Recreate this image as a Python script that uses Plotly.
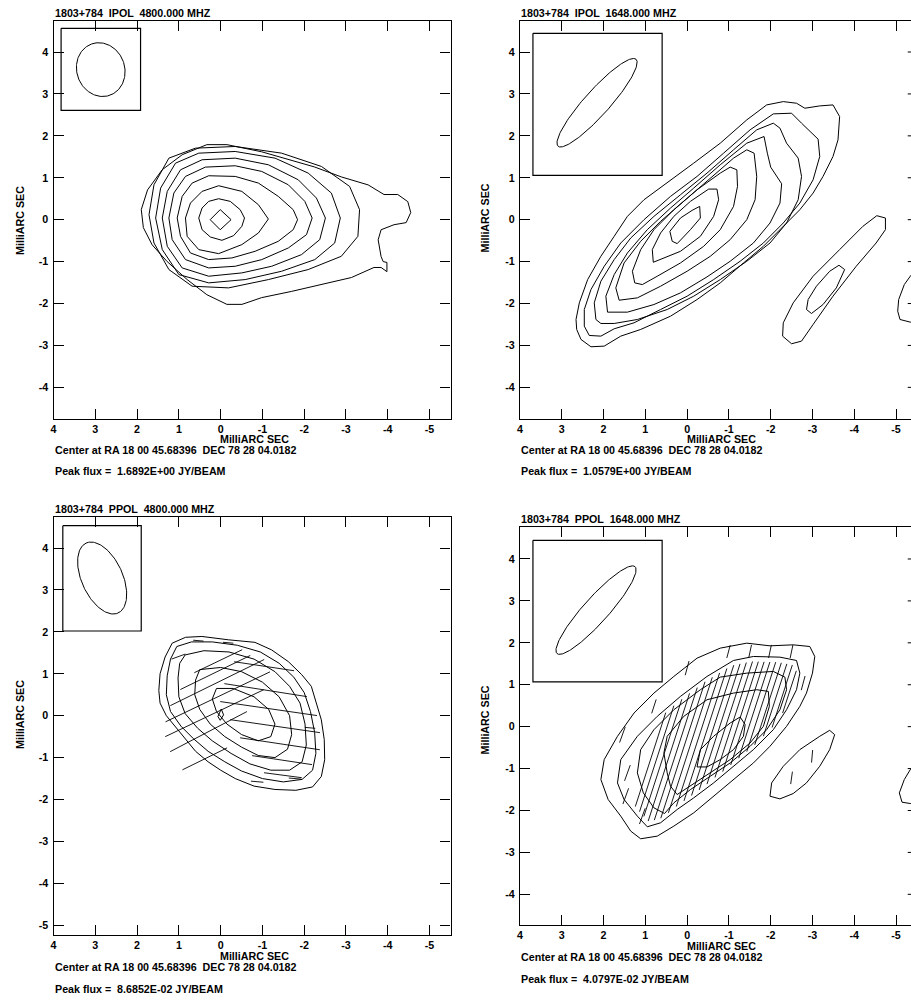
import numpy as np
import plotly.graph_objects as go

W, H = 911, 1006
FONT = "Liberation Sans, Arial, Helvetica, sans-serif"
FS = 10.7

# ---------------- text / ticks ----------------
x_tick_vals = [4, 3, 2, 1, 0, -1, -2, -3, -4, -5]
x_tick_text = ["4", "3", "2", "1", "0", "-1", "-2", "-3", "-4", "-5"]
y_tick_vals_a = [4, 3, 2, 1, 0, -1, -2, -3, -4]
y_tick_text_a = ["4", "3", "2", "1", "0", "-1", "-2", "-3", "-4"]
y_tick_vals_c = [4, 3, 2, 1, 0, -1, -2, -3, -4, -5]
y_tick_text_c = ["4", "3", "2", "1", "0", "-1", "-2", "-3", "-4", "-5"]

titles = ["1803+784  IPOL  4800.000 MHZ", "1803+784  IPOL  1648.000 MHZ",
          "1803+784  PPOL  4800.000 MHZ", "1803+784  PPOL  1648.000 MHZ"]
center_text = "Center at RA 18 00 45.68396  DEC 78 28 04.0182"
peak_flux = ["1.6892E+00", "1.0579E+00", "8.6852E-02", "4.0797E-02"]
axis_label = "MilliARC SEC"

# ---------------- beams (centre x, y, semi-major, semi-minor, PA deg) ----------------
beam_p1 = (2.87, 3.58, 0.65, 0.573, 20)
beam_p2 = (2.156, 2.79, 1.395, 0.30, -42)
beam_p3 = (2.836, 3.284, 0.918, 0.49, 24.7)
beam_p4 = (2.18, 2.78, 1.395, 0.30, -42)
# beam boxes (x_left, x_right, y_top, y_bottom)
box_p1 = (3.819, 1.917, 4.565, 2.609)
box_p2 = (3.69, 0.598, 4.446, 1.059)
box_p3 = (3.778, 1.901, 4.532, 2.02)
box_p4 = (3.69, 0.598, 4.446, 1.066)

# ---------------- contours, panel 1 (IPOL 4800) ----------------
p1_c1 = [(1.90, 0.24), (1.75, 0.71), (1.40, 1.19), (0.92, 1.55), (0.33, 1.79), (-0.15, 1.79),
         (-0.98, 1.62), (-1.63, 1.43), (-2.24, 1.26), (-2.89, 1.02), (-3.53, 0.83), (-3.91, 0.60),
         (-4.24, 0.60), (-4.48, 0.43), (-4.55, 0.17), (-4.44, -0.07), (-4.15, -0.12), (-3.84, -0.24),
         (-3.77, -0.48), (-3.84, -0.88), (-3.89, -1.00), (-3.98, -1.02), (-3.98, -1.24), (-3.84, -1.14),
         (-3.67, -1.14), (-3.13, -1.38), (-2.41, -1.55), (-1.70, -1.71), (-0.98, -1.86), (-0.51, -2.02),
         (-0.15, -2.02), (0.33, -1.79), (0.80, -1.43), (1.28, -1.00), (1.64, -0.60), (1.85, -0.19)]
p1_c2 = [(1.715, 0.119), (1.596, 0.833), (1.239, 1.468), (0.604, 1.706), (-0.349, 1.746), (-1.460, 1.587),
         (-2.412, 1.270), (-3.087, 0.794), (-3.325, 0.238), (-3.285, -0.397), (-2.888, -0.873),
         (-2.095, -1.190), (-1.142, -1.429), (-0.190, -1.627), (0.683, -1.587), (1.239, -1.190), (1.596, -0.556)]
p1_c3 = [(1.556, 0.040), (1.437, 0.754), (1.080, 1.349), (0.524, 1.587), (-0.349, 1.627), (-1.302, 1.468),
         (-2.095, 1.111), (-2.650, 0.635), (-2.864, 0.040), (-2.730, -0.556), (-2.254, -0.952),
         (-1.460, -1.230), (-0.587, -1.429), (0.286, -1.508), (1.001, -1.310), (1.397, -0.714)]
p1_c4 = [(1.397, 0.040), (1.278, 0.675), (0.961, 1.190), (0.445, 1.429), (-0.349, 1.468), (-1.142, 1.310),
         (-1.857, 0.952), (-2.293, 0.516), (-2.507, 0.040), (-2.372, -0.476), (-1.936, -0.833),
         (-1.222, -1.111), (-0.507, -1.270), (0.286, -1.349), (0.921, -1.151), (1.278, -0.635)]
p1_c5 = [(1.239, 0.040), (1.120, 0.635), (0.842, 1.032), (0.366, 1.254), (-0.349, 1.286), (-0.984, 1.151),
         (-1.619, 0.833), (-2.015, 0.437), (-2.190, 0.040), (-2.055, -0.357), (-1.619, -0.675),
         (-0.984, -0.952), (-0.349, -1.111), (0.286, -1.151), (0.842, -0.952), (1.160, -0.476)]
p1_c6 = [(1.040, 0.040), (0.921, 0.556), (0.683, 0.873), (0.286, 1.048), (-0.349, 1.032), (-0.904, 0.873),
         (-1.380, 0.556), (-1.737, 0.238), (-1.841, 0.000), (-1.737, -0.238), (-1.380, -0.516),
         (-0.825, -0.754), (-0.269, -0.913), (0.286, -0.952), (0.723, -0.794), (0.961, -0.397)]
p1_c7 = [(0.842, 0.040), (0.723, 0.397), (0.445, 0.675), (0.048, 0.810), (-0.507, 0.675), (-0.904, 0.357),
         (-1.142, 0.016), (-0.904, -0.317), (-0.507, -0.595), (0.048, -0.810), (0.524, -0.714), (0.802, -0.397)]
p1_c8 = [(0.524, 0.040), (0.445, 0.278), (0.286, 0.437), (0.048, 0.500), (-0.230, 0.437), (-0.468, 0.238),
         (-0.571, 0.040), (-0.507, -0.159), (-0.309, -0.381), (-0.031, -0.492), (0.247, -0.413), (0.445, -0.238)]
p1_c9 = [(0.25, 0.0), (0.01, 0.24), (-0.25, 0.0), (0.01, -0.24)]
p1_contours = [p1_c1, p1_c2, p1_c3, p1_c4, p1_c5, p1_c6, p1_c7, p1_c8, p1_c9]

# ---------------- contours, panel 2 (IPOL 1648) ----------------
p2_c1 = [(2.659, -2.381), (2.580, -1.984), (2.381, -1.429), (2.064, -0.873), (1.746, -0.397), (1.429, 0.079),
         (1.032, 0.476), (0.477, 0.873), (-0.158, 1.349), (-0.793, 1.825), (-1.428, 2.381), (-1.904, 2.738),
         (-2.301, 2.817), (-2.619, 2.778), (-2.817, 2.659), (-3.174, 2.714), (-3.491, 2.738), (-3.650, 2.460),
         (-3.611, 1.905), (-3.491, 1.508), (-3.253, 1.032), (-3.015, 0.635), (-2.698, 0.238), (-2.222, -0.238),
         (-1.825, -0.635), (-1.349, -1.032), (-0.793, -1.508), (-0.238, -1.905), (0.397, -2.302),
         (1.111, -2.619), (1.588, -2.778), (1.984, -3.016), (2.302, -3.032), (2.540, -2.857), (2.643, -2.619)]
p2_c2 = [(2.461, -2.540), (2.461, -2.143), (2.302, -1.667), (1.984, -1.111), (1.588, -0.556), (1.032, 0.000),
         (0.397, 0.556), (-0.238, 1.032), (-0.873, 1.587), (-1.507, 2.143), (-2.063, 2.524), (-2.500, 2.540),
         (-2.738, 2.302), (-3.135, 1.921), (-3.174, 1.508), (-3.015, 0.952), (-2.698, 0.397), (-2.301, -0.079),
         (-1.825, -0.556), (-1.269, -0.992), (-0.634, -1.429), (0.000, -1.825), (0.635, -2.143), (1.270, -2.460),
         (1.746, -2.603), (2.064, -2.778), (2.342, -2.762)]
p2_c3 = [(2.183, -2.381), (2.223, -1.984), (2.064, -1.468), (1.746, -0.952), (1.350, -0.437), (0.794, 0.079),
         (0.159, 0.595), (-0.476, 1.111), (-1.111, 1.667), (-1.666, 2.143), (-2.063, 2.302), (-2.222, 2.183),
         (-2.380, 1.825), (-2.658, 1.468), (-2.738, 1.032), (-2.658, 0.476), (-2.380, -0.079), (-1.984, -0.556),
         (-1.428, -0.992), (-0.793, -1.429), (-0.158, -1.825), (0.477, -2.143), (1.191, -2.381), (1.746, -2.476),
         (2.064, -2.476)]
p2_c4 = [(1.905, -2.206), (1.945, -1.825), (1.746, -1.310), (1.429, -0.794), (0.953, -0.238), (0.397, 0.278),
         (-0.158, 0.754), (-0.793, 1.310), (-1.428, 1.825), (-1.841, 1.984), (-1.920, 1.587), (-2.000, 1.254),
         (-2.262, 0.857), (-2.222, 0.397), (-1.984, -0.079), (-1.587, -0.556), (-1.031, -0.992), (-0.476, -1.365),
         (0.159, -1.746), (0.794, -2.024), (1.429, -2.206)]
p2_c5 = [(1.627, -1.921), (1.707, -1.627), (1.509, -1.032), (1.112, -0.516), (0.635, -0.040), (0.000, 0.516),
         (-0.635, 1.071), (-1.111, 1.468), (-1.428, 1.667), (-1.603, 1.587), (-1.666, 1.032), (-1.627, 0.476),
         (-1.428, 0.000), (-1.031, -0.476), (-0.555, -0.873), (0.000, -1.230), (0.635, -1.587), (1.191, -1.865)]
p2_c6 = [(1.254, -1.508), (1.310, -1.230), (1.111, -0.714), (0.794, -0.238), (0.318, 0.238), (-0.238, 0.714),
         (-0.793, 1.111), (-1.031, 1.254), (-1.190, 1.190), (-1.206, 0.794), (-1.111, 0.317), (-0.793, -0.238),
         (-0.396, -0.635), (0.159, -1.032), (0.715, -1.349), (1.072, -1.548)]
p2_c7 = [(0.810, -1.016), (0.834, -0.714), (0.635, -0.317), (0.318, 0.079), (-0.079, 0.437), (-0.515, 0.730),
         (-0.714, 0.730), (-0.754, 0.476), (-0.635, 0.079), (-0.317, -0.397), (0.159, -0.754), (0.715, -0.992)]
p2_c8 = [(0.357, -0.516), (0.413, -0.278), (0.159, 0.040), (-0.119, 0.222), (-0.301, 0.317), (-0.317, 0.040),
         (-0.079, -0.238), (0.238, -0.571)]
p2_c9 = [(-2.301, -2.460), (-2.285, -2.778), (-2.500, -2.960), (-2.738, -2.897), (-3.015, -2.500),
         (-3.491, -1.825), (-4.047, -1.111), (-4.523, -0.556), (-4.746, -0.238), (-4.746, 0.040),
         (-4.539, 0.095), (-4.206, -0.159), (-3.650, -0.714), (-3.015, -1.349), (-2.539, -1.984)]
p2_c10 = [(-2.857, -2.143), (-2.976, -2.238), (-3.253, -2.024), (-3.571, -1.627), (-3.770, -1.190),
          (-3.634, -1.087), (-3.412, -1.230), (-3.095, -1.587), (-2.896, -1.905)]
p2_c11 = [(-5.6, -1.05), (-5.341, -1.349), (-5.198, -1.548), (-5.063, -1.905), (-5.040, -2.183),
          (-5.095, -2.381), (-5.341, -2.444), (-5.6, -2.45)]
p2_contours = [p2_c1, p2_c2, p2_c3, p2_c4, p2_c5, p2_c6, p2_c7, p2_c8, p2_c9, p2_c10]
p2_open = [p2_c11]

# ---------------- contours, panel 3 (PPOL 4800) ----------------
p3_c1 = [(1.16, 1.73), (0.84, 1.87), (0.45, 1.89), (-0.19, 1.81), (-0.82, 1.75), (-1.22, 1.57), (-1.62, 1.29),
         (-1.94, 0.98), (-2.17, 0.70), (-2.29, 0.30), (-2.41, -0.10), (-2.48, -0.57), (-2.49, -1.05),
         (-2.41, -1.45), (-2.2, -1.7), (-1.8, -1.78), (-1.3, -1.76), (-0.8, -1.68), (-0.35, -1.5), (0.0, -1.3),
         (0.3, -1.1), (0.6, -0.85), (0.85, -0.55), (1.1, -0.25), (1.3, 0.0), (1.45, 0.3), (1.48, 0.6),
         (1.45, 1.0), (1.33, 1.4)]
p3_c2 = [(1.05, 1.65), (0.7, 1.76), (0.2, 1.76), (-0.4, 1.68), (-0.95, 1.52), (-1.4, 1.25), (-1.75, 0.92),
         (-2.0, 0.55), (-2.15, 0.1), (-2.25, -0.4), (-2.28, -0.9), (-2.2, -1.3), (-1.95, -1.52), (-1.5, -1.58),
         (-1.0, -1.5), (-0.5, -1.32), (-0.1, -1.1), (0.3, -0.85), (0.65, -0.55), (0.95, -0.25), (1.2, 0.1),
         (1.3, 0.5), (1.28, 0.95), (1.2, 1.35)]
p3_c3 = [(0.85, 1.45), (0.4, 1.55), (-0.2, 1.52), (-0.8, 1.35), (-1.3, 1.05), (-1.65, 0.7), (-1.9, 0.3),
         (-2.02, -0.2), (-2.05, -0.7), (-1.95, -1.1), (-1.65, -1.3), (-1.2, -1.3), (-0.7, -1.15), (-0.25, -0.9),
         (0.2, -0.6), (0.55, -0.3), (0.85, 0.05), (1.0, 0.45), (1.02, 0.9), (0.98, 1.25)]
p3_c4 = [(0.5, 1.1), (0.0, 1.15), (-0.5, 1.05), (-1.0, 0.8), (-1.4, 0.45), (-1.65, 0.0), (-1.7, -0.45),
         (-1.6, -0.8), (-1.3, -1.0), (-0.9, -0.95), (-0.5, -0.75), (-0.1, -0.5), (0.25, -0.2), (0.5, 0.15),
         (0.62, 0.5), (0.6, 0.85)]
p3_c5 = [(0.1, 0.65), (-0.3, 0.65), (-0.8, 0.45), (-1.15, 0.15), (-1.3, -0.2), (-1.2, -0.5), (-0.9, -0.6),
         (-0.5, -0.45), (-0.15, -0.2), (0.1, 0.1), (0.2, 0.4)]
p3_c6 = [(0.065, -0.02), (-0.015, 0.16), (-0.07, 0.02), (0.01, -0.11)]
p3_contours = [p3_c1, p3_c2, p3_c3, p3_c4, p3_c5, p3_c6]

# polarization vectors panel 3: centre x, centre y, length, position angle (deg)
p3_vec_x = [0.29, 0.147, 0.069, 0.081, 0.128, 0.057, 0.381,
            -1.04, -1.076, -1.148, -1.303, -1.42, -1.47, -1.49,
            0.534, -0.18, -0.874, -1.78, -2.14, 1.01]
p3_vec_y = [-0.38, 0.06, 0.45, 0.79, 1.03, 1.30, -1.03,
            1.18, 0.61, 0.17, -0.25, -0.67, -1.06, -1.42,
            1.79, 1.74, -1.575, -1.50, -0.29, 1.41]
p3_vec_len = [2.07, 2.61, 2.77, 2.50, 1.86, 1.27, 1.19,
              1.45, 2.0, 2.34, 2.17, 1.93, 1.45, 0.91,
              0.25, 0.25, 0.3, 0.3, 0.25, 0.35]
p3_vec_pa = [-62.5, -64.6, -64.5, -63.9, -64.1, -64.4, -63.9,
             -98.5, -98.9, -98.2, -98.2, -98.5, -98.5, -97.5,
             -95, -95, -95, -95, -95, -70]

# ---------------- contours, panel 4 (PPOL 1648) ----------------
p4_c1 = [(2.064, -1.262), (1.985, -0.786), (1.667, -0.230), (1.270, 0.325), (0.794, 0.801), (0.318, 1.198),
         (-0.237, 1.634), (-0.793, 1.873), (-1.428, 1.992), (-1.983, 1.928), (-2.539, 1.952), (-2.936, 1.912),
         (-3.055, 1.674), (-3.000, 1.277), (-2.856, 0.801), (-2.698, 0.484), (-2.380, 0.008), (-1.983, -0.469),
         (-1.587, -0.866), (-1.110, -1.262), (-0.634, -1.659), (-0.158, -2.056), (0.318, -2.373),
         (0.715, -2.612), (1.112, -2.675), (1.350, -2.492), (1.588, -2.135), (1.890, -1.738)]
p4_c2 = [(1.667, -1.342), (1.588, -0.786), (1.191, -0.230), (0.715, 0.246), (0.159, 0.722), (-0.476, 1.198),
         (-1.110, 1.579), (-1.587, 1.674), (-2.221, 1.658), (-2.618, 1.579), (-2.698, 1.277), (-2.618, 0.881),
         (-2.380, 0.404), (-2.063, -0.072), (-1.587, -0.548), (-1.110, -0.945), (-0.634, -1.342),
         (-0.158, -1.699), (0.239, -1.977), (0.636, -2.294), (0.953, -2.389), (1.191, -2.135), (1.509, -1.738)]
p4_c3 = [(1.191, -1.103), (1.112, -0.548), (0.794, -0.072), (0.318, 0.404), (-0.317, 0.881), (-0.793, 1.182),
         (-1.428, 1.277), (-2.063, 1.317), (-2.340, 1.182), (-2.380, 0.881), (-2.221, 0.404), (-1.904, -0.072),
         (-1.507, -0.469), (-1.031, -0.866), (-0.555, -1.183), (-0.079, -1.501), (0.318, -1.818),
         (0.540, -2.072), (0.794, -1.937), (1.048, -1.580)]
p4_c4 = [(0.556, -0.627), (0.477, -0.230), (0.080, 0.246), (-0.476, 0.642), (-1.110, 0.801), (-1.666, 0.881),
         (-1.944, 0.841), (-1.968, 0.484), (-1.825, 0.008), (-1.507, -0.389), (-1.031, -0.786), (-0.555, -1.103),
         (-0.079, -1.421), (0.239, -1.620), (0.398, -1.421), (0.477, -1.103)]
p4_c5 = [(-0.237, -0.961), (-0.317, -0.548), (-0.634, -0.230), (-1.031, 0.087), (-1.269, 0.230),
         (-1.388, 0.048), (-1.348, -0.230), (-1.110, -0.548), (-0.793, -0.786), (-0.476, -0.961)]
p4_c6 = [(-1.983, -1.659), (-2.023, -1.342), (-2.301, -0.945), (-2.698, -0.548), (-3.174, -0.230),
         (-3.412, -0.088), (-3.531, -0.191), (-3.412, -0.548), (-3.174, -0.945), (-2.856, -1.342),
         (-2.539, -1.596), (-2.221, -1.723)]
p4_c7 = [(-5.6, -0.85), (-5.34, -1.024), (-5.198, -1.262), (-5.079, -1.580), (-5.143, -1.802),
         (-5.34, -1.834), (-5.6, -1.84)]
p4_contours = [p4_c1, p4_c2, p4_c3, p4_c4, p4_c5, p4_c6]
p4_open = [p4_c7]

# panel 4 vectors: chained hatch through the core (inside the 2nd contour), short vectors outside
p4_vec_x = [0.876, 0.728, 0.581, 0.437, 0.271, 0.101, -0.077, -0.259, -0.438, -0.611, -0.778, -0.946,
            -1.116, -1.278, -1.443, -1.608, -1.774, -1.937, -2.106, -2.276, -2.449,
            1.548, 1.429, 1.469, 1.072, 0.794, 0.0, -0.991, -1.507, -1.983, -2.499, -2.777, -2.499, -2.991]
p4_vec_y = [-0.786, -0.764, -0.743, -0.729, -0.649, -0.557, -0.439, -0.312, -0.192, -0.088, -0.006, 0.079,
            0.172, 0.239, 0.317, 0.395, 0.473, 0.545, 0.635, 0.726, 0.828,
            -0.191, -1.104, -1.659, -2.135, 0.484, 1.397, 1.793, 1.793, 1.793, 1.793, 1.039, -1.222, -0.707]
p4_vec_len = [2.355, 2.658, 2.939, 3.202, 3.325, 3.423, 3.398, 3.351, 3.320, 3.271, 3.163, 3.048,
              2.907, 2.758, 2.587, 2.414, 2.244, 2.058, 1.814, 1.568, 1.061,
              0.4, 0.4, 0.4, 0.4, 0.35, 0.35, 0.32, 0.32, 0.32, 0.32, 0.35, 0.3, 0.3]
p4_vec_pa = [-18] * 21 + [-20, -20, -20, -20, -18, -15, -15, -12, -12, -12, -15, -8, -5]

# ---------------- panel geometry (paper fractions) ----------------
panels = [
    dict(xd=[50.7 / W, 449 / W], yd=[1 - 419 / H, 1 - 20.7 / H], xr=[4, -5.502], yr=[-4.755, 4.747],
         yt=(y_tick_vals_a, y_tick_text_a), mirror=True),
    dict(xd=[518.7 / W, 1.0], yd=[1 - 419 / H, 1 - 20.7 / H], xr=[4, -5.358], yr=[-4.755, 4.747],
         yt=(y_tick_vals_a, y_tick_text_a), mirror=False),
    dict(xd=[50.7 / W, 449 / W], yd=[1 - 935.3 / H, 1 - 516.7 / H], xr=[4, -5.502], yr=[-5.239, 4.747],
         yt=(y_tick_vals_c, y_tick_text_c), mirror=True),
    dict(xd=[518.7 / W, 1.0], yd=[1 - 925.3 / H, 1 - 527 / H], xr=[4, -5.358], yr=[-4.739, 4.763],
         yt=(y_tick_vals_a, y_tick_text_a), mirror=False),
]
# text rows (pixel y of centre): title, x-label, centre line, peak line ; x starts
text_rows = [
    dict(x0=50.7, xc=252.5, title=12.7, xlab=438.7, cen=449.9, peak=471.0, ylab_x=17, ylab_y=220),
    dict(x0=518.7, xc=720.5, title=12.7, xlab=438.7, cen=449.9, peak=471.0, ylab_x=484, ylab_y=218),
    dict(x0=50.7, xc=252.5, title=508.7, xlab=955.8, cen=967.0, peak=989.3, ylab_x=17, ylab_y=714),
    dict(x0=518.7, xc=720.5, title=519.3, xlab=945.6, cen=956.8, peak=978.7, ylab_x=484, ylab_y=720),
]


def closed_xy(polys, close=True):
    xs, ys = [], []
    for p in polys:
        pts = list(p) + ([p[0]] if close else [])
        xs += [q[0] for q in pts] + [None]
        ys += [q[1] for q in pts] + [None]
    return xs, ys


def ellipse_xy(b, n=160):
    cx, cy, a, bb, pa = b
    t = np.linspace(0, 2 * np.pi, n)
    r = np.radians(pa)
    ux, uy = np.sin(r), np.cos(r)
    vx, vy = np.cos(r), -np.sin(r)
    return cx + a * np.cos(t) * ux + bb * np.sin(t) * vx, cy + a * np.cos(t) * uy + bb * np.sin(t) * vy


def box_xy(bx):
    xl, xr, yt, yb = bx
    return [xl, xr, xr, xl, xl], [yt, yt, yb, yb, yt]


def vec_xy(vx, vy, vl, vp):
    xs, ys = [], []
    for x, y, L, pa in zip(vx, vy, vl, vp):
        r = np.radians(pa)
        dx, dy = 0.5 * L * np.sin(r), 0.5 * L * np.cos(r)
        xs += [x - dx, x + dx, None]
        ys += [y - dy, y + dy, None]
    return xs, ys


fig = go.Figure()
line = dict(color="#000", width=1)

contour_sets = [(p1_contours, []), (p2_contours, p2_open), (p3_contours, []), (p4_contours, p4_open)]
beams = [beam_p1, beam_p2, beam_p3, beam_p4]
boxes = [box_p1, box_p2, box_p3, box_p4]
vectors = [None, None, (p3_vec_x, p3_vec_y, p3_vec_len, p3_vec_pa), (p4_vec_x, p4_vec_y, p4_vec_len, p4_vec_pa)]

for i in range(4):
    xa = "x" if i == 0 else f"x{i + 1}"
    ya = "y" if i == 0 else f"y{i + 1}"
    closed, opened = contour_sets[i]
    cx, cy = closed_xy(closed, True)
    ox, oy = closed_xy(opened, False)
    fig.add_trace(go.Scatter(x=cx + ox, y=cy + oy, mode="lines", line=line, xaxis=xa, yaxis=ya,
                             hoverinfo="skip"))
    if vectors[i] is not None:
        vxs, vys = vec_xy(*vectors[i])
        fig.add_trace(go.Scatter(x=vxs, y=vys, mode="lines", line=dict(color="#000", width=0.9),
                                 xaxis=xa, yaxis=ya, hoverinfo="skip"))
    ex, ey = ellipse_xy(beams[i])
    fig.add_trace(go.Scatter(x=ex, y=ey, mode="lines", line=line, xaxis=xa, yaxis=ya, hoverinfo="skip"))
    bx, by = box_xy(boxes[i])
    fig.add_trace(go.Scatter(x=bx, y=by, mode="lines", line=dict(color="#000", width=1.2), xaxis=xa,
                             yaxis=ya, hoverinfo="skip"))

tickfont = dict(family=FONT, size=FS, color="#000", weight="bold")
layout = dict(width=W, height=H, margin=dict(l=0, r=0, t=0, b=0), showlegend=False,
              plot_bgcolor="white", paper_bgcolor="white", hovermode=False)
shapes = []
for i, p in enumerate(panels):
    xk = "xaxis" if i == 0 else f"xaxis{i + 1}"
    yk = "yaxis" if i == 0 else f"yaxis{i + 1}"
    ya = "y" if i == 0 else f"y{i + 1}"
    xa = "x" if i == 0 else f"x{i + 1}"
    layout[xk] = dict(domain=p["xd"], range=p["xr"], anchor=ya, showline=True, linecolor="#000", linewidth=1.2,
                      mirror="ticks", ticks="inside", ticklen=10, tickwidth=1, tickcolor="#000",
                      tickvals=x_tick_vals, ticktext=x_tick_text, tickfont=tickfont, showgrid=False,
                      zeroline=False, fixedrange=True)
    layout[yk] = dict(domain=p["yd"], range=p["yr"], anchor=xa, showline=True, linecolor="#000", linewidth=1.2,
                      mirror="ticks" if p["mirror"] else False, ticks="inside", ticklen=10, tickwidth=1,
                      tickcolor="#000", tickvals=p["yt"][0], ticktext=p["yt"][1], tickfont=tickfont,
                      showgrid=False, zeroline=False, fixedrange=True, ticklabelstandoff=2)
    if not p["mirror"]:
        for v in p["yt"][0]:
            shapes.append(dict(type="line", xref=f"{xa} domain", yref=ya, x0=(907.7 - 518.7) / (W - 518.7),
                               x1=1.0, y0=v, y1=v, line=dict(color="#000", width=1)))
layout["shapes"] = shapes

ann = []
tf = dict(family=FONT, size=FS, color="#000", weight="bold")
for i, t in enumerate(text_rows):
    ann.append(dict(text=titles[i], x=t["x0"] / W, y=1 - t["title"] / H, xref="paper", yref="paper",
                    xanchor="left", yanchor="middle", showarrow=False, font=tf, borderpad=0))
    ann.append(dict(text=axis_label, x=t["xc"] / W, y=1 - t["xlab"] / H, xref="paper", yref="paper",
                    xanchor="center", yanchor="middle", showarrow=False, font=tf, borderpad=0))
    ann.append(dict(text=center_text, x=t["x0"] / W, y=1 - t["cen"] / H, xref="paper", yref="paper",
                    xanchor="left", yanchor="middle", showarrow=False, font=tf, borderpad=0))
    ann.append(dict(text=f"Peak flux =  {peak_flux[i]} JY/BEAM", x=t["x0"] / W, y=1 - t["peak"] / H,
                    xref="paper", yref="paper", xanchor="left", yanchor="middle", showarrow=False, font=tf,
                    borderpad=0))
    ann.append(dict(text=axis_label, x=t["ylab_x"] / W, y=1 - t["ylab_y"] / H, xref="paper", yref="paper",
                    xanchor="center", yanchor="middle", showarrow=False, font=tf, textangle=-90, borderpad=0))
layout["annotations"] = ann
fig.update_layout(**layout)
fig.write_html("out.html", config={"displayModeBar": False},
               post_script="document.body.style.margin='0';document.body.style.overflow='hidden';")
